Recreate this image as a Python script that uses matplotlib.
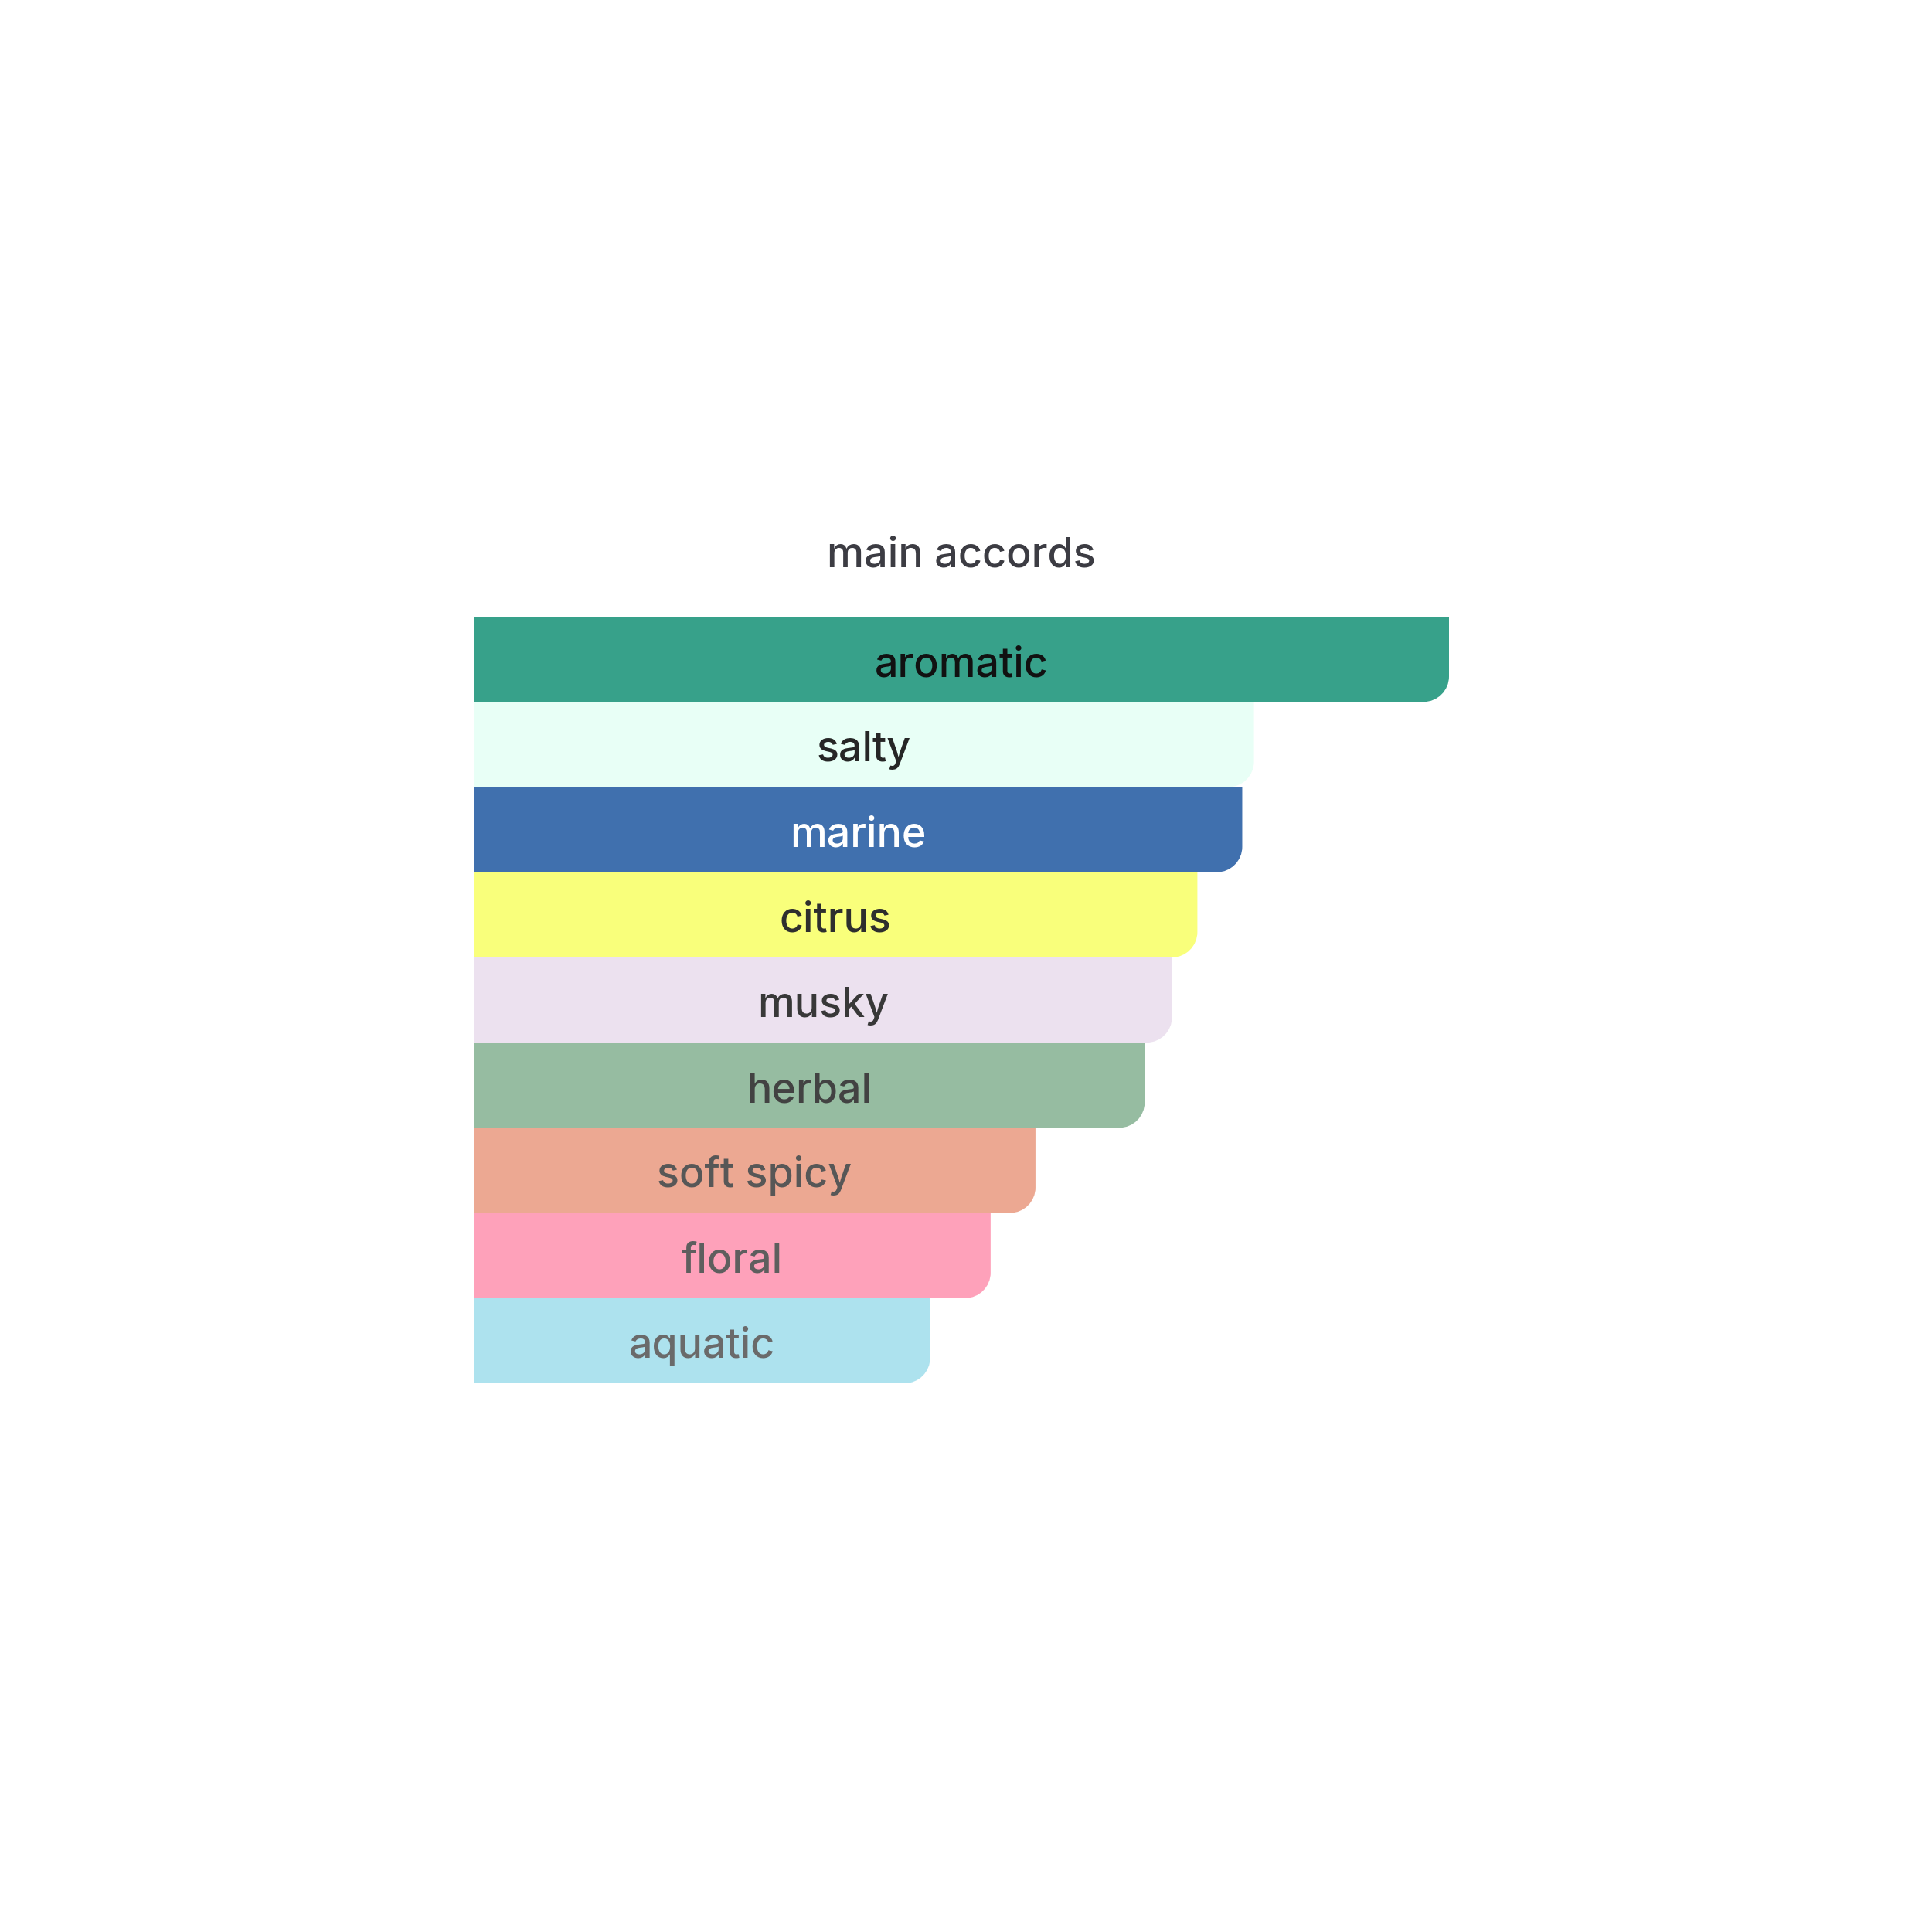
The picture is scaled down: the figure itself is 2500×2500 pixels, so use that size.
import matplotlib
matplotlib.use("Agg")
import matplotlib.pyplot as plt
from matplotlib.path import Path
from matplotlib.patches import PathPatch

# ---- data ----
accords = ["aromatic", "salty", "marine", "citrus", "musky", "herbal",
           "soft spicy", "floral", "aquatic"]
strength = [100.0, 80.0, 78.8, 74.2, 71.6, 68.8, 57.6, 53.0, 46.8]
bar_colors = ["#37A18A", "#E8FFF6", "#4070AE", "#F9FF7B", "#ECE1EF",
              "#96BCA1", "#ECA892", "#FEA1BA", "#ADE2EE"]
text_colors = ["#111111", "#262626", "#FFFFFF", "#2E2E2E", "#383838",
               "#424242", "#575757", "#5E5E5E", "#6A6A6A"]
title = "main accords"

FONT = ["Inter", "DejaVu Sans"]
WEIGHT = "medium"

W = H = 2500
fig = plt.figure(figsize=(25, 25), dpi=100)
fig.patch.set_facecolor("white")

left_px, right_px = 613, 1875
top_px, bot_px = 798, 1790
ax = fig.add_axes([left_px / W, 1 - bot_px / H,
                   (right_px - left_px) / W, (bot_px - top_px) / H])
ax.set_xlim(0, 100)
ax.set_ylim(len(accords), 0)
ax.axis("off")

px_per_x = (right_px - left_px) / 100.0
px_per_y = (bot_px - top_px) / len(accords)
radius_px = 33
rx = radius_px / px_per_x
ry = radius_px / px_per_y
k = 0.5523

for i, (v, c) in enumerate(zip(strength, bar_colors)):
    y0, y1 = i, i + 1  # y1 is lower edge (inverted axis)
    verts = [
        (0, y0), (v, y0), (v, y1 - ry),
        (v, y1 - ry + k * ry), (v - rx + k * rx, y1), (v - rx, y1),
        (0, y1), (0, y0),
    ]
    codes = [Path.MOVETO, Path.LINETO, Path.LINETO,
             Path.CURVE4, Path.CURVE4, Path.CURVE4,
             Path.LINETO, Path.CLOSEPOLY]
    ax.add_patch(PathPatch(Path(verts, codes), facecolor=c, edgecolor="none",
                           zorder=len(accords) - i))

# font sizing from target rendered widths
renderer = fig.canvas.get_renderer()
probe = fig.text(0, 0, "aromatic", fontsize=40, family=FONT, weight=WEIGHT)
w40 = probe.get_window_extent(renderer).width
probe.remove()
fs_bar = 40 * 225.0 / w40
probe = fig.text(0, 0, title, fontsize=40, family=FONT, weight=WEIGHT)
w40t = probe.get_window_extent(renderer).width
probe.remove()
fs_title = 40 * 348.0 / w40t

base_off = 22.0 / px_per_y
for i, (lab, v, tc) in enumerate(zip(accords, strength, text_colors)):
    ax.text(v / 2, i + 0.5 + base_off, lab, ha="center", va="baseline",
            fontsize=fs_bar, color=tc, family=FONT, weight=WEIGHT, zorder=20)

fig.text(0.5 * (left_px + right_px) / W, 1 - 733 / H, title, ha="center",
         va="baseline", fontsize=fs_title, color="#3C3C43", family=FONT,
         weight=WEIGHT)

fig.savefig("out.png", dpi=100, facecolor="white")
